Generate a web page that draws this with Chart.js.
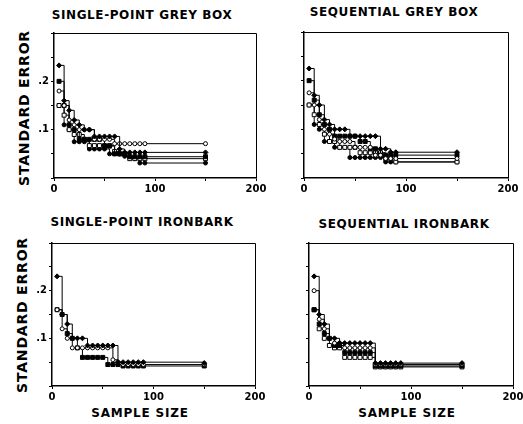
<!DOCTYPE html>
<html>
<head>
<meta charset="utf-8">
<script src="https://cdn.jsdelivr.net/npm/chart.js@4/dist/chart.umd.min.js"></script>
<style>
  html, body { margin: 0; padding: 0; background: #fff; overflow: hidden; }
  body { width: 523px; height: 424px; position: relative; font-family: "DejaVu Sans", sans-serif; }
  .box { position: absolute; }
  .title { position: absolute; font-weight: bold; font-size: 12px; letter-spacing: 0.6px; color: #000; white-space: nowrap; transform: translateX(-50%); }
  .ytitle { position: absolute; font-weight: bold; font-size: 14px; letter-spacing: 0.8px; color: #000; white-space: nowrap; transform: translate(-50%, -50%) rotate(-90deg); }
  .xtitle { position: absolute; font-weight: bold; font-size: 12px; letter-spacing: 0.8px; color: #000; white-space: nowrap; transform: translateX(-50%); }
</style>
</head>
<body>
<div class="title" style="left:142px; top:8px;">SINGLE-POINT GREY BOX</div>
<div class="title" style="left:394px; top:5px;">SEQUENTIAL GREY BOX</div>
<div class="title" style="left:142px; top:215px;">SINGLE-POINT IRONBARK</div>
<div class="title" style="left:404px; top:217px;">SEQUENTIAL IRONBARK</div>
<div class="ytitle" style="left:24px; top:108px;">STANDARD ERROR</div>
<div class="ytitle" style="left:22px; top:315px;">STANDARD ERROR</div>
<div class="xtitle" style="left:140px; top:406px;">SAMPLE SIZE</div>
<div class="xtitle" style="left:407px; top:406px;">SAMPLE SIZE</div>

<div class="box" style="left:18px; top:25px; width:252px; height:175px;"><canvas id="c1"></canvas></div>
<div class="box" style="left:268px; top:24px; width:254px; height:176px;"><canvas id="c2"></canvas></div>
<div class="box" style="left:16px; top:235px; width:253px; height:173px;"><canvas id="c3"></canvas></div>
<div class="box" style="left:273px; top:235px; width:254px; height:173px;"><canvas id="c4"></canvas></div>

<script>
// sample sizes shared by every run
const sampleSize = [5, 10, 15, 20, 25, 30, 35, 40, 45, 50, 55, 60, 65, 70, 75, 80, 85, 90, 150];

// single-point grey box
const spGrey1 = [0.233, 0.16, 0.14, 0.12, 0.11, 0.10, 0.10, 0.086, 0.086, 0.086, 0.086, 0.086, 0.06, 0.053, 0.053, 0.053, 0.053, 0.053, 0.053];
const spGrey2 = [0.18, 0.15, 0.12, 0.11, 0.10, 0.10, 0.10, 0.08, 0.08, 0.08, 0.08, 0.071, 0.071, 0.071, 0.071, 0.071, 0.071, 0.071, 0.071];
const spGrey3 = [0.20, 0.15, 0.11, 0.10, 0.08, 0.08, 0.08, 0.08, 0.08, 0.066, 0.066, 0.05, 0.05, 0.05, 0.044, 0.044, 0.044, 0.044, 0.044];
const spGrey4 = [0.15, 0.13, 0.10, 0.09, 0.09, 0.08, 0.067, 0.067, 0.067, 0.067, 0.067, 0.055, 0.05, 0.05, 0.04, 0.04, 0.04, 0.04, 0.04];
const spGrey5 = [0.15, 0.11, 0.10, 0.075, 0.075, 0.075, 0.06, 0.06, 0.06, 0.06, 0.05, 0.05, 0.05, 0.045, 0.045, 0.04, 0.031, 0.031, 0.031];

// sequential grey box
const seqGrey1 = [0.225, 0.17, 0.15, 0.12, 0.11, 0.10, 0.10, 0.10, 0.086, 0.086, 0.086, 0.086, 0.086, 0.086, 0.06, 0.06, 0.053, 0.053, 0.053];
const seqGrey2 = [0.20, 0.16, 0.13, 0.11, 0.10, 0.086, 0.086, 0.086, 0.086, 0.086, 0.075, 0.075, 0.06, 0.06, 0.047, 0.047, 0.047, 0.047, 0.047];
const seqGrey3 = [0.175, 0.15, 0.12, 0.10, 0.09, 0.08, 0.075, 0.075, 0.075, 0.063, 0.063, 0.063, 0.063, 0.047, 0.047, 0.04, 0.04, 0.04, 0.04];
const seqGrey4 = [0.15, 0.13, 0.11, 0.09, 0.075, 0.075, 0.063, 0.063, 0.063, 0.063, 0.052, 0.052, 0.052, 0.052, 0.052, 0.04, 0.04, 0.033, 0.033];
const seqGrey5 = [0.15, 0.11, 0.10, 0.075, 0.075, 0.063, 0.063, 0.063, 0.042, 0.042, 0.042, 0.042, 0.042, 0.042, 0.042, 0.033, 0.033, 0.033, 0.033];

// single-point ironbark
const spIron1 = [0.23, 0.15, 0.13, 0.10, 0.10, 0.10, 0.085, 0.085, 0.085, 0.085, 0.085, 0.085, 0.05, 0.05, 0.05, 0.05, 0.05, 0.05, 0.048];
const spIron2 = [0.16, 0.12, 0.10, 0.08, 0.08, 0.08, 0.08, 0.08, 0.08, 0.08, 0.08, 0.055, 0.05, 0.045, 0.045, 0.045, 0.045, 0.045, 0.045];
const spIron3 = [0.16, 0.15, 0.11, 0.10, 0.08, 0.06, 0.06, 0.06, 0.06, 0.06, 0.045, 0.045, 0.045, 0.042, 0.042, 0.042, 0.042, 0.042, 0.042];

// sequential ironbark
const seqIron1 = [0.23, 0.15, 0.13, 0.10, 0.10, 0.09, 0.09, 0.09, 0.09, 0.09, 0.09, 0.09, 0.048, 0.048, 0.048, 0.048, 0.048, 0.048, 0.048];
const seqIron2 = [0.20, 0.14, 0.12, 0.10, 0.09, 0.09, 0.08, 0.08, 0.08, 0.08, 0.08, 0.08, 0.045, 0.045, 0.045, 0.045, 0.045, 0.045, 0.045];
const seqIron3 = [0.16, 0.13, 0.11, 0.10, 0.085, 0.085, 0.07, 0.07, 0.07, 0.07, 0.07, 0.07, 0.042, 0.042, 0.042, 0.042, 0.042, 0.042, 0.042];
const seqIron4 = [0.16, 0.12, 0.10, 0.085, 0.08, 0.08, 0.06, 0.06, 0.06, 0.06, 0.06, 0.06, 0.04, 0.04, 0.04, 0.04, 0.04, 0.04, 0.04];

const yTicks = [0.1, 0.2];
const xTicks = [0, 100, 200];

// marker styles, cycled per run
const markers = [
    { pointStyle: "rectRot", fill: "#000", r: 2.5 },
    { pointStyle: "circle", fill: "#fff", r: 2 },
    { pointStyle: "rect", fill: "#000", r: 2.8 },
    { pointStyle: "rect", fill: "#fff", r: 2.8 },
    { pointStyle: "circle", fill: "#000", r: 2 }
];

// draws the top and right sides of the frame
const framePlugin = {
    id: "frame",
    afterDraw(chart) {
        const a = chart.chartArea;
        const ctx = chart.ctx;
        ctx.save();
        ctx.strokeStyle = "#000";
        ctx.lineWidth = 1;
        ctx.beginPath();
        ctx.moveTo(a.left, a.top + 0.5);
        ctx.lineTo(a.right + 0.5, a.top + 0.5);
        ctx.lineTo(a.right + 0.5, a.bottom);
        ctx.stroke();
        ctx.restore();
    }
};

function makePanel(id, runs, showY) {
    const datasets = runs.map((vals, i) => {
        const m = markers[i % markers.length];
        return {
            data: vals.map((v, j) => ({ x: sampleSize[j], y: v })),
            borderColor: "#000",
            borderWidth: 1,
            stepped: true,
            pointStyle: m.pointStyle,
            pointRadius: m.r,
            pointBackgroundColor: m.fill,
            pointBorderColor: "#000",
            pointBorderWidth: 1,
            fill: false
        };
    });

    new Chart(document.getElementById(id), {
        type: "line",
        data: { datasets: datasets },
        options: {
            responsive: true,
            maintainAspectRatio: false,
            animation: false,
            layout: { padding: { top: 8, right: 14, left: 0, bottom: 0 } },
            plugins: { legend: { display: false }, tooltip: { enabled: false } },
            scales: {
                x: {
                    type: "linear",
                    min: 0,
                    max: 200,
                    afterFit: (s) => { s.height = 22; },
                    border: { display: true, color: "#000", width: 1.5 },
                    grid: { drawOnChartArea: false, drawTicks: true, tickLength: 3, color: "#000" },
                    ticks: {
                        stepSize: 50,
                        padding: 2,
                        maxRotation: 0,
                        color: "#000",
                        font: { family: "DejaVu Sans", weight: "bold", size: 10 },
                        callback: (v) => xTicks.includes(v) ? String(v) : ""
                    }
                },
                y: {
                    min: 0,
                    max: 0.3,
                    afterFit: (s) => { s.width = 36; },
                    border: { display: true, color: "#000", width: 1.5 },
                    grid: { drawOnChartArea: false, drawTicks: true, tickLength: 3, color: "#000" },
                    ticks: {
                        stepSize: 0.05,
                        padding: 2,
                        color: "#000",
                        font: { family: "DejaVu Sans", weight: "bold", size: 10 },
                        callback: (v) => {
                            if (!showY) return "";
                            const t = yTicks.find((k) => Math.abs(k - v) < 1e-6);
                            return t ? "." + Math.round(t * 10) : "";
                        }
                    }
                }
            }
        },
        plugins: [framePlugin]
    });
}

makePanel("c1", [spGrey1, spGrey2, spGrey3, spGrey4, spGrey5], true);
makePanel("c2", [seqGrey1, seqGrey3, seqGrey2, seqGrey4, seqGrey5], false);
makePanel("c3", [spIron1, spIron2, spIron3], true);
makePanel("c4", [seqIron1, seqIron2, seqIron3, seqIron4], false);
</script>
</body>
</html>
